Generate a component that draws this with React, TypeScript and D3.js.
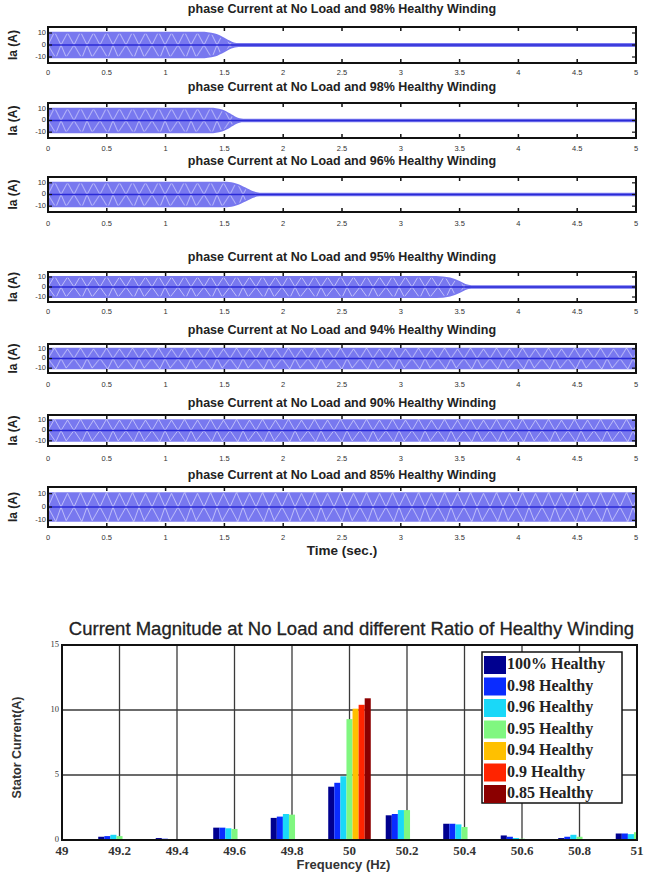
import React from "react";
import * as d3 from "d3";

// ---------- DATA ----------
const panelTitles = [
  "phase Current at No Load and 98% Healthy Winding",
  "phase Current at No Load and 98% Healthy Winding",
  "phase Current at No Load and 96% Healthy Winding",
  "phase Current at No Load and 95% Healthy Winding",
  "phase Current at No Load and 94% Healthy Winding",
  "phase Current at No Load and 90% Healthy Winding",
  "phase Current at No Load and 85% Healthy Winding",
];
// envelope of the phase current (time s, amplitude A)
const envTime1 = [0, 1.3, 1.42, 1.5, 1.56, 1.62, 5];
const envAmp1 = [11, 11, 9.5, 6, 3, 1.6, 1.6];
const envTime2 = [0, 1.38, 1.48, 1.55, 1.6, 1.66, 5];
const envAmp2 = [11, 11, 9.5, 6, 3, 1.6, 1.6];
const envTime3 = [0, 1.52, 1.6, 1.68, 1.74, 1.8, 5];
const envAmp3 = [11, 11, 9.5, 6, 3, 1.6, 1.6];
const envTime4 = [0, 3.3, 3.42, 3.5, 3.55, 3.6, 5];
const envAmp4 = [11, 11, 9.5, 6, 3, 1.8, 1.8];
const envTime5 = [0, 5];
const envAmp5 = [11, 11];
const envTime6 = [0, 5];
const envAmp6 = [11, 11];
const envTime7 = [0, 5];
const envAmp7 = [11, 11];
const envTimes = [envTime1, envTime2, envTime3, envTime4, envTime5, envTime6, envTime7];
const envAmps = [envAmp1, envAmp2, envAmp3, envAmp4, envAmp5, envAmp6, envAmp7];

const timeTicks = [0, 0.5, 1, 1.5, 2, 2.5, 3, 3.5, 4, 4.5, 5];
const timeTickLabels = ["0", "0.5", "1", "1.5", "2", "2.5", "3", "3.5", "4", "4.5", "5"];
const currentTicks = [10, 0, -10];

const freqs = [49.2, 49.4, 49.6, 49.8, 50, 50.2, 50.4, 50.6, 50.8, 51];
const freqTickLabels = ["49", "49.2", "49.4", "49.6", "49.8", "50", "50.2", "50.4", "50.6", "50.8", "51"];
const freqTicks = [49, 49.2, 49.4, 49.6, 49.8, 50, 50.2, 50.4, 50.6, 50.8, 51];
const statorTicks = [0, 5, 10, 15];
const seriesNames = ["100% Healthy", "0.98 Healthy", "0.96 Healthy", "0.95 Healthy", "0.94 Healthy", "0.9 Healthy", "0.85 Healthy"];
const h100 = [0.25, 0.15, 0.95, 1.7, 4.1, 1.9, 1.25, 0.35, 0.15, 0.5];
const h098 = [0.3, 0.1, 0.95, 1.8, 4.4, 2.0, 1.25, 0.25, 0.25, 0.5];
const h096 = [0.4, 0.05, 0.9, 2.0, 4.9, 2.3, 1.2, 0.15, 0.4, 0.45];
const h095 = [0.3, 0.05, 0.85, 1.95, 9.3, 2.3, 1.0, 0.1, 0.25, 0.6];
const h094 = [0, 0, 0, 0, 10.1, 0, 0, 0, 0, 0];
const h090 = [0, 0, 0, 0, 10.4, 0, 0, 0, 0, 0];
const h085 = [0, 0, 0, 0, 10.9, 0, 0, 0, 0, 0];
const seriesValues = [h100, h098, h096, h095, h094, h090, h085];

// ---------- STYLE / LAYOUT ----------
const seriesColors = ["#00008f", "#0a2cff", "#1ad8f8", "#80f780", "#ffc000", "#ff2400", "#8b0000"];
const W = 649, H = 874;
const panelLayout = [
  { title: 10, top: 27, bottom: 63, labels: 73 },
  { title: 88, top: 103, bottom: 138, labels: 149 },
  { title: 162, top: 177, bottom: 212, labels: 224 },
  { title: 258, top: 272, bottom: 302, labels: 312 },
  { title: 331, top: 344, bottom: 373, labels: 385 },
  { title: 404, top: 415, bottom: 446, labels: 459 },
  { title: 476, top: 487, bottom: 527, labels: 538 },
];
const PL = 48, PR = 636;
const sans = "Liberation Sans, Arial, sans-serif";
const serif = "Liberation Serif, Times New Roman, serif";

type EnvPt = { t: number; a: number };

function Panel({ i }: { i: number }) {
  const L = panelLayout[i];
  const x = d3.scaleLinear().domain([0, 5]).range([PL, PR]);
  const y = d3.scaleLinear().domain([-15, 15]).range([L.bottom, L.top]);
  const pts: EnvPt[] = envTimes[i].map((t, k) => ({ t, a: envAmps[i][k] }));
  const residual = envAmps[i][envAmps[i].length - 1];
  const area = d3
    .area<EnvPt>()
    .x((d) => x(d.t))
    .y0((d) => y(-d.a))
    .y1((d) => y(d.a))
    .curve(d3.curveMonotoneX);
  // texture only where the waveform is large (above the residual level)
  const texArea = d3
    .area<EnvPt>()
    .x((d) => x(d.t))
    .y0((d) => y(-Math.max(0, d.a - residual) * (d.a > residual ? 1 : 0)))
    .y1((d) => y(Math.max(0, d.a - residual) * (d.a > residual ? 1 : 0)))
    .curve(d3.curveMonotoneX);
  const isConst = envAmps[i].every((a) => a === envAmps[i][0]);
  const bandTop = y(envAmps[i][0]);
  const bandBot = y(-envAmps[i][0]);
  const bh = bandBot - bandTop;
  const pw = 13;
  const pid = `zz${i}`;
  const cid = `clip${i}`;
  return (
    <g>
      <defs>
        <pattern id={pid} patternUnits="userSpaceOnUse" x={PL} y={bandTop} width={pw * 2} height={bh}>
          <path
            d={`M0,${bh / 2} L${pw * 0.5},0 L${pw},${bh / 2} L${pw * 1.5},1 L${pw * 2},${bh / 2} M0,${bh / 2} L${pw * 0.6},${bh} L${pw},${bh / 2} L${pw * 1.4},${bh - 1} L${pw * 2},${bh / 2}`}
            fill="none"
            stroke="#e8e8ff"
            strokeWidth={0.9}
            opacity={0.7}
          />
        </pattern>
        <clipPath id={cid}>
          <rect x={PL} y={L.top} width={PR - PL} height={L.bottom - L.top} />
        </clipPath>
      </defs>
      <text x={(PL + PR) / 2} y={L.title} textAnchor="middle" dominantBaseline="middle" fontFamily={sans} fontWeight="bold" fontSize={12.5} fill="#222">
        {panelTitles[i]}
      </text>
      <rect x={PL} y={L.top} width={PR - PL} height={L.bottom - L.top} fill="#fff" />
      <g clipPath={`url(#${cid})`}>
        <path d={area(pts) || ""} fill="#7878ef" />
        <path d={(isConst ? area(pts) : texArea(pts)) || ""} fill={`url(#${pid})`} />
        <line x1={PL} x2={PR} y1={y(0)} y2={y(0)} stroke="#2a2ad6" strokeWidth={1.4} />
      </g>
      {timeTicks.map((t) => (
        <g key={t}>
          <line x1={x(t)} x2={x(t)} y1={L.top} y2={L.top + 4} stroke="#111" strokeWidth={1.5} />
          <line x1={x(t)} x2={x(t)} y1={L.bottom} y2={L.bottom - 4} stroke="#111" strokeWidth={1.5} />
        </g>
      ))}
      {currentTicks.map((v) => (
        <g key={v}>
          <line x1={PL} x2={PL + 4} y1={y(v)} y2={y(v)} stroke="#111" strokeWidth={1.2} />
          <line x1={PR} x2={PR - 4} y1={y(v)} y2={y(v)} stroke="#111" strokeWidth={1.2} />
          <text x={PL - 2} y={y(v)} textAnchor="end" dominantBaseline="middle" fontFamily={sans} fontSize={7.5} fill="#333">
            {v}
          </text>
        </g>
      ))}
      <rect x={PL} y={L.top} width={PR - PL} height={L.bottom - L.top} fill="none" stroke="#111" strokeWidth={2} />
      {timeTicks.map((t, k) => (
        <text key={t} x={x(t)} y={L.labels} textAnchor="middle" dominantBaseline="middle" fontFamily={sans} fontSize={7.5} fill="#333">
          {timeTickLabels[k]}
        </text>
      ))}
      <text
        transform={`translate(14,${(L.top + L.bottom) / 2}) rotate(-90)`}
        textAnchor="middle"
        dominantBaseline="middle"
        fontFamily={sans}
        fontWeight="bold"
        fontSize={12}
        fill="#222"
      >
        Ia (A)
      </text>
    </g>
  );
}

function BarChart() {
  const left = 62, right = 637, top = 645, bottom = 840;
  const x = d3.scaleLinear().domain([49, 51]).range([left, right]);
  const y = d3.scaleLinear().domain([0, 15]).range([bottom, top]);
  const n = seriesValues.length;
  const groupW = (x(freqs[1]) - x(freqs[0])) * 0.74;
  const bw = groupW / n;
  const legTop = 652, legLeft = 482, legW = 140, rowH = 21.5;
  return (
    <g>
      <defs>
        <clipPath id="barclip">
          <rect x={left} y={top} width={right - left} height={bottom - top} />
        </clipPath>
      </defs>
      <text x={(left + right) / 2 + 2} y={630} textAnchor="middle" dominantBaseline="middle" fontFamily={sans} fontSize={18.5} fill="#222" stroke="#222" strokeWidth={0.3}>
        Current Magnitude at No Load and different Ratio of Healthy Winding
      </text>
      <rect x={left} y={top} width={right - left} height={bottom - top} fill="#fff" />
      {freqTicks.slice(1, -1).map((f) => (
        <line key={f} x1={x(f)} x2={x(f)} y1={top} y2={bottom} stroke="#3a3a3a" strokeWidth={1.3} />
      ))}
      {statorTicks.slice(1, -1).map((v) => (
        <line key={v} x1={left} x2={right} y1={y(v)} y2={y(v)} stroke="#3a3a3a" strokeWidth={1.3} />
      ))}
      <g clipPath="url(#barclip)">
        {seriesValues.map((vals, s) =>
          vals.map((v, k) =>
            v > 0 ? (
              <rect
                key={`${s}-${k}`}
                x={x(freqs[k]) - groupW / 2 + s * bw}
                y={y(v)}
                width={bw}
                height={y(0) - y(v)}
                fill={seriesColors[s]}
              />
            ) : null
          )
        )}
      </g>
      <rect x={left} y={top} width={right - left} height={bottom - top} fill="none" stroke="#111" strokeWidth={2} />
      {statorTicks.map((v) => (
        <text key={v} x={left - 3} y={y(v)} textAnchor="end" dominantBaseline="middle" fontFamily={serif} fontSize={8.5} fill="#333">
          {v}
        </text>
      ))}
      {freqTicks.map((f, k) => (
        <text key={f} x={x(f)} y={852} textAnchor="middle" dominantBaseline="middle" fontFamily={serif} fontWeight="bold" fontSize={13} fill="#333">
          {freqTickLabels[k]}
        </text>
      ))}
      <text x={(left + right) / 2 - 6} y={866} textAnchor="middle" dominantBaseline="middle" fontFamily={sans} fontWeight="bold" fontSize={13} fill="#333">
        Frequency (Hz)
      </text>
      <text
        transform={`translate(18,${(top + bottom) / 2 + 5}) rotate(-90)`}
        textAnchor="middle"
        dominantBaseline="middle"
        fontFamily={sans}
        fontWeight="bold"
        fontSize={12.5}
        fill="#333"
      >
        Stator Current(A)
      </text>
      <rect x={legLeft} y={legTop} width={legW} height={151} fill="#fff" stroke="#111" strokeWidth={1.5} />
      {seriesNames.map((name, s) => (
        <g key={name}>
          <rect x={legLeft + 2} y={legTop + 4 + s * rowH} width={22} height={18} fill={seriesColors[s]} />
          <text x={legLeft + 25} y={legTop + 13.5 + s * rowH} dominantBaseline="middle" fontFamily={serif} fontWeight="bold" fontSize={16} fill="#222">
            {name}
          </text>
        </g>
      ))}
    </g>
  );
}

export default function App() {
  return (
    <svg width={W} height={H} style={{ position: "absolute", left: 0, top: 0, background: "#fff" }}>
      <rect width={W} height={H} fill="#fff" />
      {panelTitles.map((_, i) => (
        <Panel key={i} i={i} />
      ))}
      <text x={342} y={551} textAnchor="middle" dominantBaseline="middle" fontFamily={sans} fontWeight="bold" fontSize={13.5} fill="#222">
        Time (sec.)
      </text>
      <BarChart />
    </svg>
  );
}
